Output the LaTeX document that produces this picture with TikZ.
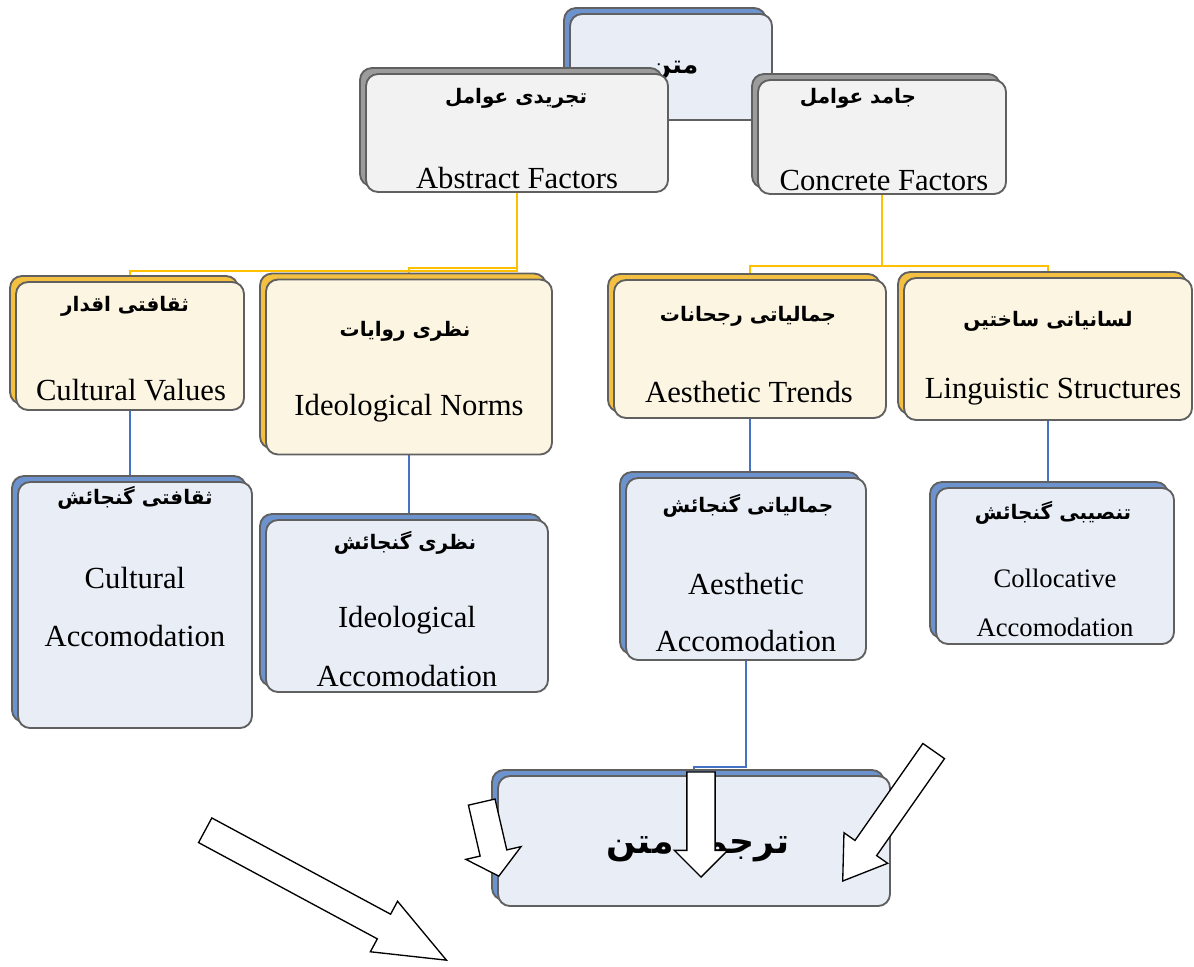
\documentclass[tikz,border=0pt]{standalone}
\usepackage{fontspec}
\setmainfont{Liberation Serif}
\newfontfamily\urdufont[Script=Arabic]{DejaVu Sans}
\TeXXeTstate=1
\usetikzlibrary{shapes.arrows,backgrounds}

\definecolor{edgegray}{HTML}{606060}
\definecolor{factorfill}{HTML}{F2F2F2}
\definecolor{factorback}{HTML}{9C9C9C}
\definecolor{normfill}{HTML}{FCF5E2}
\definecolor{normback}{HTML}{F4C042}
\definecolor{accomfill}{HTML}{E8EDF6}
\definecolor{accomback}{HTML}{6D93CE}
\definecolor{goldline}{HTML}{FFC000}
\definecolor{blueline}{HTML}{4472C4}

\begin{document}
\begin{tikzpicture}[x=0.75pt, y=-0.75pt]
\tikzstyle{panel}=[draw=edgegray, line width=1.4pt, rounded corners=9pt, inner sep=0pt]
\tikzstyle{factor}=[panel, fill=factorfill, preaction={fill=factorback, draw=edgegray, transform canvas={xshift=-4.5pt, yshift=4.5pt}}]
\tikzstyle{norm}=[panel, fill=normfill, preaction={fill=normback, draw=edgegray, transform canvas={xshift=-4.5pt, yshift=4.5pt}}]
\tikzstyle{accom}=[panel, fill=accomfill, preaction={fill=accomback, draw=edgegray, transform canvas={xshift=-4.5pt, yshift=4.5pt}}]
\tikzstyle{eng}=[inner sep=0pt, font=\fontsize{23}{26}\selectfont]
\tikzstyle{urd}=[inner sep=0pt, font=\urdufont\bfseries\fontsize{15}{18}\selectfont]
\tikzstyle{yline}=[goldline, line width=1.6pt]
\tikzstyle{bline}=[blueline, line width=1.1pt]
\tikzstyle{hollow}=[single arrow, draw, fill=white, line width=1pt, inner xsep=0pt, single arrow head extend=11pt, anchor=tip]

\useasboundingbox (0,0) rectangle (1194,966);

% top
\draw (671,67) node[accom, minimum width=151.5pt, minimum height=79.5pt] (text) {};
\draw (674,70) node[urd, font=\urdufont\bfseries\fontsize{19}{23}\selectfont] (textU) {\beginR متن\endR};

% factors
\draw (517,133) node[factor, minimum width=226.5pt, minimum height=88.5pt] (abs) {};
\draw (882,137) node[factor, minimum width=186pt, minimum height=85.5pt] (con) {};
\draw (516,98) node[urd] (absU) {\beginR تجریدی عوامل\endR};
\draw (517,178) node[eng] (absE) {Abstract Factors};
\draw (858,98) node[urd] (conU) {\beginR جامد عوامل\endR};
\draw (884,180) node[eng] (conE) {Concrete Factors};

% values, norms, trends, structures
\draw (130,346) node[norm, minimum width=171pt, minimum height=96pt] (cv) {};
\draw (409,367) node[norm, minimum width=214.5pt, minimum height=131.25pt] (ign) {};
\draw (750,349) node[norm, minimum width=204pt, minimum height=103.5pt] (aet) {};
\draw (1048,349) node[norm, minimum width=216pt, minimum height=106.5pt] (lin) {};
\draw (125,306) node[urd] (cvU) {\beginR ثقافتی اقدار\endR};
\draw (131,390) node[eng] (cvE) {Cultural Values};
\draw (405,331) node[urd] (ignU) {\beginR نظری روایات\endR};
\draw (409,408) node[eng] (ignE) {Ideological Norms};
\draw (748,316) node[urd] (aetU) {\beginR جمالیاتی رجحانات\endR};
\draw (749,392) node[eng] (aetE) {Aesthetic Trends};
\draw (1048,321) node[urd] (linU) {\beginR لسانیاتی ساختیں\endR};
\draw (1053,392) node[eng] (linE) {Linguistic Structures};

% accomodation
\draw (135,605) node[accom, minimum width=175.5pt, minimum height=184.5pt] (cac) {};
\draw (407,606) node[accom, minimum width=211.5pt, minimum height=129pt] (iac) {};
\draw (746,569) node[accom, minimum width=180pt, minimum height=136.5pt] (aac) {};
\draw (1055,566) node[accom, minimum width=178.5pt, minimum height=117pt] (col) {};
\draw (135,498) node[urd] (cacU) {\beginR ثقافتی گنجائش\endR};
\draw (135,578) node[eng] (cacE) {Cultural};
\draw (135,636) node[eng] (cacA) {Accomodation};
\draw (405,543) node[urd] (iacU) {\beginR نظری گنجائش\endR};
\draw (407,620) node[eng] (iacE) {Ideological};
\draw (407,676) node[eng] (iacA) {Accomodation};
\draw (748,506) node[urd] (aacU) {\beginR جمالیاتی گنجائش\endR};
\draw (746,584) node[eng] (aacE) {Aesthetic};
\draw (746,641) node[eng] (aacA) {Accomodation};
\draw (1053,513) node[urd] (colU) {\beginR تنصیبی گنجائش\endR};
\draw (1055,578) node[eng, font=\fontsize{20}{23}\selectfont] (colE) {Collocative};
\draw (1055,627) node[eng, font=\fontsize{20}{23}\selectfont] (colA) {Accomodation};

% translated text
\draw (694,841) node[accom, minimum width=294pt, minimum height=97.5pt] (ttn) {};
\draw (698,845) node[urd, font=\urdufont\bfseries\fontsize{26}{31}\selectfont] (ttnU) {\beginR ترجمہ متن\endR};

\begin{scope}[on background layer]
\draw[yline] (abs.south) -- ++(0,78) -| (cv.north);
\draw[yline] (abs.south) -- ++(0,75) -| (ign.north);
\draw[yline] (con.south) -- ++(0,71) -| (aet.north);
\draw[yline] (con.south) -- ++(0,71) -| (lin.north);
\draw[bline] (cv.south) -- (cv.south |- cac.north);
\draw[bline] (ign.south) -- (ign.south |- iac.north);
\draw[bline] (aet.south) -- (aet.south |- aac.north);
\draw[bline] (lin.south) -- (lin.south |- col.north);
\draw[bline] (aac.south) -- ++(0,106) -| (ttn.north);
\end{scope}

% block arrows
\draw (448,961) node[hollow, rotate=-28.3, minimum height=205.5pt, inner ysep=10pt, single arrow tip angle=44] (arrA) {};
\draw (499,877) node[hollow, rotate=-77, minimum height=57pt, inner ysep=9.75pt, single arrow tip angle=100] (arrB) {};
\draw (701,878) node[hollow, rotate=-90, minimum height=78.75pt, inner ysep=10.1pt, single arrow head extend=9.4pt] (arrC) {};
\draw (842,882) node[hollow, rotate=-125, minimum height=119pt, inner ysep=9.4pt, single arrow head extend=10.1pt, single arrow tip angle=67] (arrD) {};
\end{tikzpicture}
\end{document}
